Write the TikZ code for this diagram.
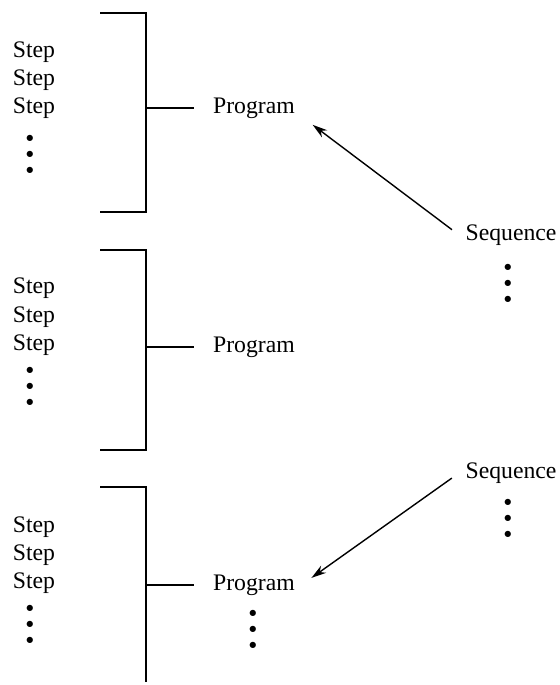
\documentclass[tikz,border=0pt]{standalone}
\usepackage{fontspec}
\setmainfont{Liberation Serif}
\newfontfamily\symfont{DejaVu Sans}
\usetikzlibrary{arrows.meta, positioning}

% three stacked dots
\newcommand{\threedots}{\vbox{\symfont\fontsize{4.6}{9}\selectfont\baselineskip=9.1pt
  \hbox{●}\hbox{●}\hbox{●}}}

\begin{document}
\begin{tikzpicture}[x=0.02cm, y=-0.02cm, >={Stealth[length=8.5pt,width=5pt]},
    line width=0.8pt, font=\fontsize{13.5}{16}\selectfont,
    dotcol/.style={inner sep=0pt},
    tick/.style={shorten >=7.4pt}]
  \useasboundingbox (0,0) rectangle (560,685);

  % Block 1
  \node (St1a) at (34,52)  {Step};
  \node (St1b) at (34,80)  {Step};
  \node (St1c) at (34,108) {Step};
  \node (Dt1) [dotcol] at (30,154) {\threedots};
  \draw (100,13) -- (146,13) -- (146,212) -- (100,212);
  \coordinate (K1) at (146,108);
  \node (P1) at (254,108) {Program};

  % Block 2
  \node (St2a) at (34,288) {Step};
  \node (St2b) at (34,317) {Step};
  \node (St2c) at (34,345) {Step};
  \node (Dt2) [dotcol] at (30,386) {\threedots};
  \draw (100,250) -- (146,250) -- (146,450) -- (100,450);
  \coordinate (K2) at (146,347);
  \node (P2) at (254,347) {Program};

  % Block 3 (open at the bottom)
  \node (St3a) at (34,527) {Step};
  \node (St3b) at (34,555) {Step};
  \node (St3c) at (34,583) {Step};
  \node (Dt3) [dotcol] at (30,624) {\threedots};
  \draw (100,487) -- (146,487) -- (146,682);
  \coordinate (K3) at (146,585);
  \node (P3) at (254,585) {Program};
  \node (DP3) [dotcol] at (253,629) {\threedots};

  % Sequences
  \node (Q1) at (511,235) {Sequence};
  \node (DQ1) [dotcol] at (508,283) {\threedots};
  \node (Q2) at (511,473) {Sequence};
  \node (DQ2) [dotcol] at (508,518) {\threedots};

  % --- bracket ticks ---
  \draw[tick] (K1) -- (P1.west);
  \draw[tick] (K2) -- (P2.west);
  \draw[tick] (K3) -- (P3.west);

  % --- arrows ---
  \draw[->, shorten <=5pt, shorten >=8pt] (Q1.west) -- (P1.-10);
  \draw[->, shorten <=5pt, shorten >=7pt] (Q2.west) -- (P3.east);
\end{tikzpicture}
\end{document}
